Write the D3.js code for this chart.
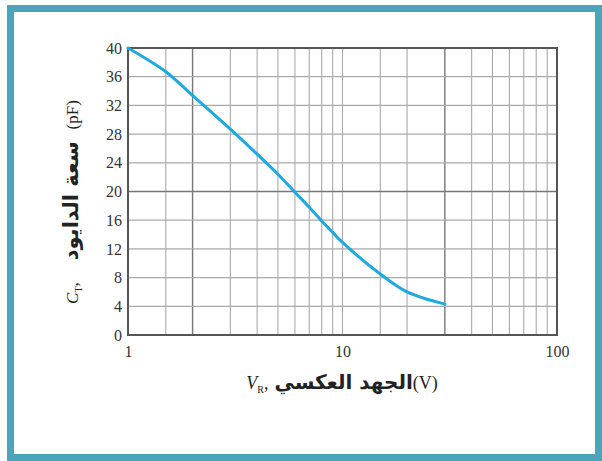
<!DOCTYPE html>
<html>
<head>
<meta charset="utf-8">
<script src="https://cdn.jsdelivr.net/npm/d3@7"></script>
<style>
	html, body { margin: 0; padding: 0; background: #fff; }
	svg { display: block; }
</style>
</head>
<body>
<div id="chart"></div>
<script>
'use strict';

// reverse voltage V_R (V) and diode capacitance C_T (pF)
const vr = [1, 1.5, 2, 3, 4, 5, 6, 7, 8, 9, 10, 15, 20, 30];
const ct = [40, 36.7, 33.4, 28.7, 25.2, 22.4, 19.9, 17.8, 15.9, 14.3, 12.9, 8.5, 6.0, 4.3];

const xTicks = [1, 10, 100];
const yTicks = [0, 4, 8, 12, 16, 20, 24, 28, 32, 36, 40];
// vertical grid lines of the log paper
const xGrid = [1.5, 2, 3, 4, 5, 6, 7, 8, 9, 10, 15, 20, 30, 40, 50, 60, 70, 80, 90];
const xGridDark = [2, 30];
const yGridDark = [20];

const width = 602, height = 461;
const margin = { top: 48, right: 45, bottom: 126, left: 128 };
const w = width - margin.left - margin.right;
const h = height - margin.top - margin.bottom;

const svg = d3.select("#chart")
	.append("svg")
		.attr("width", width)
		.attr("height", height);

// teal frame round the figure
svg.append("rect")
	.attr("x", 10.5).attr("y", 8.5)
	.attr("width", 588).attr("height", 449)
	.attr("fill", "#fff")
	.attr("stroke", "#4aa5bb")
	.attr("stroke-width", 7);

const g = svg.append("g")
	.attr("transform", `translate(${margin.left},${margin.top})`);

const x = d3.scaleLog().domain([1, 100]).range([0, w]);
const y = d3.scaleLinear().domain([0, 40]).range([h, 0]);

// grid
g.append("g")
	.selectAll("line")
	.data(xGrid)
	.join("line")
		.attr("x1", d => x(d)).attr("x2", d => x(d))
		.attr("y1", 0).attr("y2", h)
		.attr("stroke", d => xGridDark.includes(d) ? "#777" : "#aaa")
		.attr("stroke-width", d => xGridDark.includes(d) ? 1.4 : 1.1);

g.append("g")
	.selectAll("line")
	.data(yTicks.slice(1, -1))
	.join("line")
		.attr("x1", 0).attr("x2", w)
		.attr("y1", d => y(d)).attr("y2", d => y(d))
		.attr("stroke", d => yGridDark.includes(d) ? "#777" : "#aaa")
		.attr("stroke-width", d => yGridDark.includes(d) ? 1.6 : 1.3);

// axes
const yAxis = g.append("g")
	.call(d3.axisLeft(y).tickValues(yTicks).tickSize(0).tickPadding(6));
const xAxis = g.append("g")
	.attr("transform", `translate(0,${h})`)
	.call(d3.axisBottom(x).tickValues(xTicks).tickSize(0).tickPadding(11)
		.tickFormat(d3.format("d")));

for (const ax of [xAxis, yAxis]) {
	ax.select(".domain").remove();
	ax.selectAll("text")
		.attr("font-family", "'Liberation Serif', serif")
		.attr("font-size", 16)
		.attr("fill", "#333");
}

// plot border
g.append("rect")
	.attr("width", w).attr("height", h)
	.attr("fill", "none")
	.attr("stroke", "#555")
	.attr("stroke-width", 2);

// curve
const line = d3.line()
	.x((d, i) => x(vr[i]))
	.y(d => y(d))
	.curve(d3.curveCatmullRom.alpha(0.5));

g.append("path")
	.datum(ct)
	.attr("d", line)
	.attr("fill", "none")
	.attr("stroke", "#1ea9e1")
	.attr("stroke-width", 3)
	.attr("stroke-linecap", "round");

// axis titles
const xt = svg.append("text")
	.attr("x", 342).attr("y", 389)
	.attr("text-anchor", "middle")
	.attr("font-family", "'Liberation Serif', serif")
	.attr("font-size", 18)
	.attr("fill", "#222");
xt.append("tspan").attr("font-style", "italic").text("V");
xt.append("tspan").attr("font-size", 10).attr("dy", 4).text("R");
xt.append("tspan").attr("dy", -4).text(",");
xt.append("tspan")
	.attr("dx", 6)
	.attr("font-family", "'DejaVu Sans', sans-serif")
	.attr("font-weight", "bold")
	.attr("font-size", 20)
	.text("الجهد العكسي");
xt.append("tspan").text("(V)");

const yt = svg.append("text")
	.attr("transform", "translate(78,202) rotate(-90)")
	.attr("text-anchor", "middle")
	.attr("font-family", "'Liberation Serif', serif")
	.attr("font-size", 17)
	.attr("fill", "#222");
yt.append("tspan").attr("font-style", "italic").text("C");
yt.append("tspan").attr("font-size", 10).attr("dy", 4).text("T");
yt.append("tspan").attr("dy", -4).text(",");
yt.append("tspan")
	.attr("dx", 22)
	.attr("font-family", "'DejaVu Sans', sans-serif")
	.attr("font-weight", "bold")
	.attr("font-size", 21)
	.text("سعة الدايود");
yt.append("tspan").attr("dx", 12).text("(pF)");
</script>
</body>
</html>
